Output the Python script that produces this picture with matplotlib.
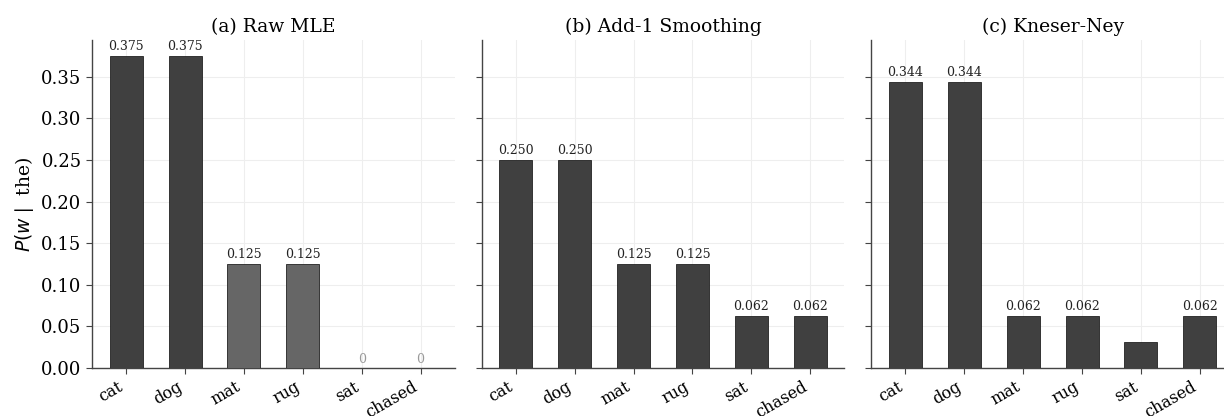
import matplotlib
matplotlib.use("Agg")
import matplotlib.pyplot as plt
import numpy as np

words = ["cat", "dog", "mat", "rug", "sat", "chased"]
titles = ["(a) Raw MLE", "(b) Add-1 Smoothing", "(c) Kneser-Ney"]
mle = [0.375, 0.375, 0.125, 0.125, 0.0, 0.0]
add1 = [0.250, 0.250, 0.125, 0.125, 0.0625, 0.0625]
kn = [0.34375, 0.34375, 0.0625, 0.0625, 0.03125, 0.0625]
mle_colors = ["#404040", "#404040", "#666666", "#666666", "#404040", "#404040"]
show_label_kn = [True, True, True, True, False, True]

plt.rcParams["font.family"] = ["DejaVu Serif"]
plt.rcParams["mathtext.fontset"] = "dejavusans"

fig, axes = plt.subplots(1, 3, figsize=(12.24, 4.16), dpi=100, sharey=True)
fig.subplots_adjust(left=92 / 1224, right=1234 / 1224, top=1 - 40 / 416,
                    bottom=1 - 368 / 416, wspace=0.0744)

series = [mle, add1, kn]
x = np.arange(len(words))
for i, (ax, vals) in enumerate(zip(axes, series)):
    cols = mle_colors if i == 0 else ["#404040"] * len(words)
    ax.bar(x, vals, width=0.56, color=cols, edgecolor="#222222", linewidth=0.6, zorder=3)
    for j, v in enumerate(vals):
        if i == 2 and not show_label_kn[j]:
            continue
        if v == 0:
            ax.text(j, v + 0.003, "0", ha="center", va="bottom", fontsize=9, color="#999999", zorder=4)
        else:
            ax.text(j, v + 0.003, f"{v:.3f}", ha="center", va="bottom", fontsize=9, color="#222222", zorder=4)
    ax.set_title(titles[i], fontsize=13.5)
    ax.set_xticks(x)
    ax.set_xticklabels(words, rotation=30, ha="right", fontsize=11.5)
    ax.grid(True, color="#eeeeee", linewidth=0.8, zorder=0)
    ax.set_axisbelow(True)
    for s in ["top", "right"]:
        ax.spines[s].set_visible(False)
    for s in ["left", "bottom"]:
        ax.spines[s].set_color("#444444")
        ax.spines[s].set_linewidth(1.0)
    ax.tick_params(axis="both", length=4, color="#444444", labelsize=13)
    ax.tick_params(axis="x", labelsize=11.5)
    ax.set_xlim(-0.58, 5.58)

axes[0].set_ylim(0, 0.394)
axes[0].set_yticks(np.arange(0, 0.351, 0.05))
axes[0].set_ylabel(r"$P(w \mid$ the)", fontsize=13.5)

fig.savefig("out.png", dpi=100)
